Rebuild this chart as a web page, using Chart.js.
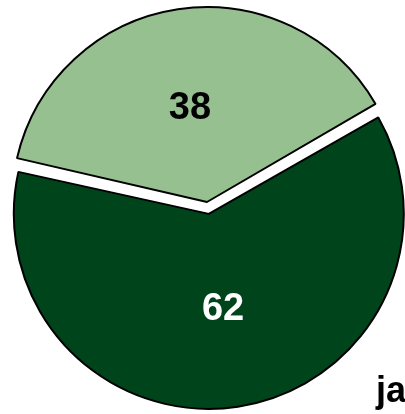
<!DOCTYPE html>
<html>
<head>
<meta charset="utf-8">
<script src="https://cdn.jsdelivr.net/npm/chart.js@4"></script>
<style>
  html, body { margin: 0; padding: 0; background: #fff; }
  #wrap { position: relative; width: 405px; height: 414px; }
</style>
</head>
<body>
<div id="wrap"><canvas id="pieChart"></canvas></div>
<script>
// Data
const sliceLabels = ["38", "62"];
const sliceValues = [38, 62];
const sliceColors = ["#96c090", "#00441b"];
const labelColors = ["#000000", "#ffffff"];
const sliceOffsets = [0, 48];   // chart.js draws offset / 4
const labelTurn = [-0.03, 0];   // small angle nudge for the value labels
const cornerLabel = "ja";

const pieRadius = 195;
const FONT = "'Liberation Sans', Arial, sans-serif";

// chart.js also grows the radius of a >180deg slice by offset/4, undo that
const keepRadius = {
  id: "keepRadius",
  afterDatasetsUpdate(chart) {
    chart.getDatasetMeta(0).data.forEach((arc, i) => {
      if (arc.circumference >= Math.PI) arc.outerRadius = pieRadius - sliceOffsets[i] / 4;
    });
  }
};

// value labels and the corner text
const sliceText = {
  id: "sliceText",
  afterDatasetsDraw(chart) {
    const ctx = chart.ctx;
    ctx.save();
    ctx.font = "bold 38px " + FONT;
    ctx.textAlign = "center";
    ctx.textBaseline = "middle";
    chart.getDatasetMeta(0).data.forEach((arc, i) => {
      const mid = (arc.startAngle + arc.endAngle) / 2 + labelTurn[i];
      const r = pieRadius * 0.49 + sliceOffsets[i] / 4;
      ctx.fillStyle = labelColors[i];
      ctx.fillText(sliceValues[i], arc.x + Math.cos(mid) * r, arc.y + Math.sin(mid) * r + 1);
    });
    ctx.font = "bold 36px " + FONT;
    ctx.textAlign = "left";
    ctx.textBaseline = "alphabetic";
    ctx.fillStyle = "#000";
    ctx.fillText(cornerLabel, 376, 402);
    ctx.restore();
  }
};

new Chart(document.getElementById("pieChart"), {
  type: "pie",
  data: {
    labels: sliceLabels,
    datasets: [{
      data: sliceValues,
      backgroundColor: sliceColors,
      borderColor: "#000000",
      borderWidth: 2,
      offset: sliceOffsets
    }]
  },
  options: {
    responsive: true,
    maintainAspectRatio: false,
    animation: false,
    events: [],
    rotation: -77,
    radius: pieRadius,
    layout: { padding: { left: 9, top: 0, right: 0, bottom: 10 } },
    plugins: {
      legend: { display: false },
      tooltip: { enabled: false }
    }
  },
  plugins: [keepRadius, sliceText]
});
</script>
</body>
</html>
